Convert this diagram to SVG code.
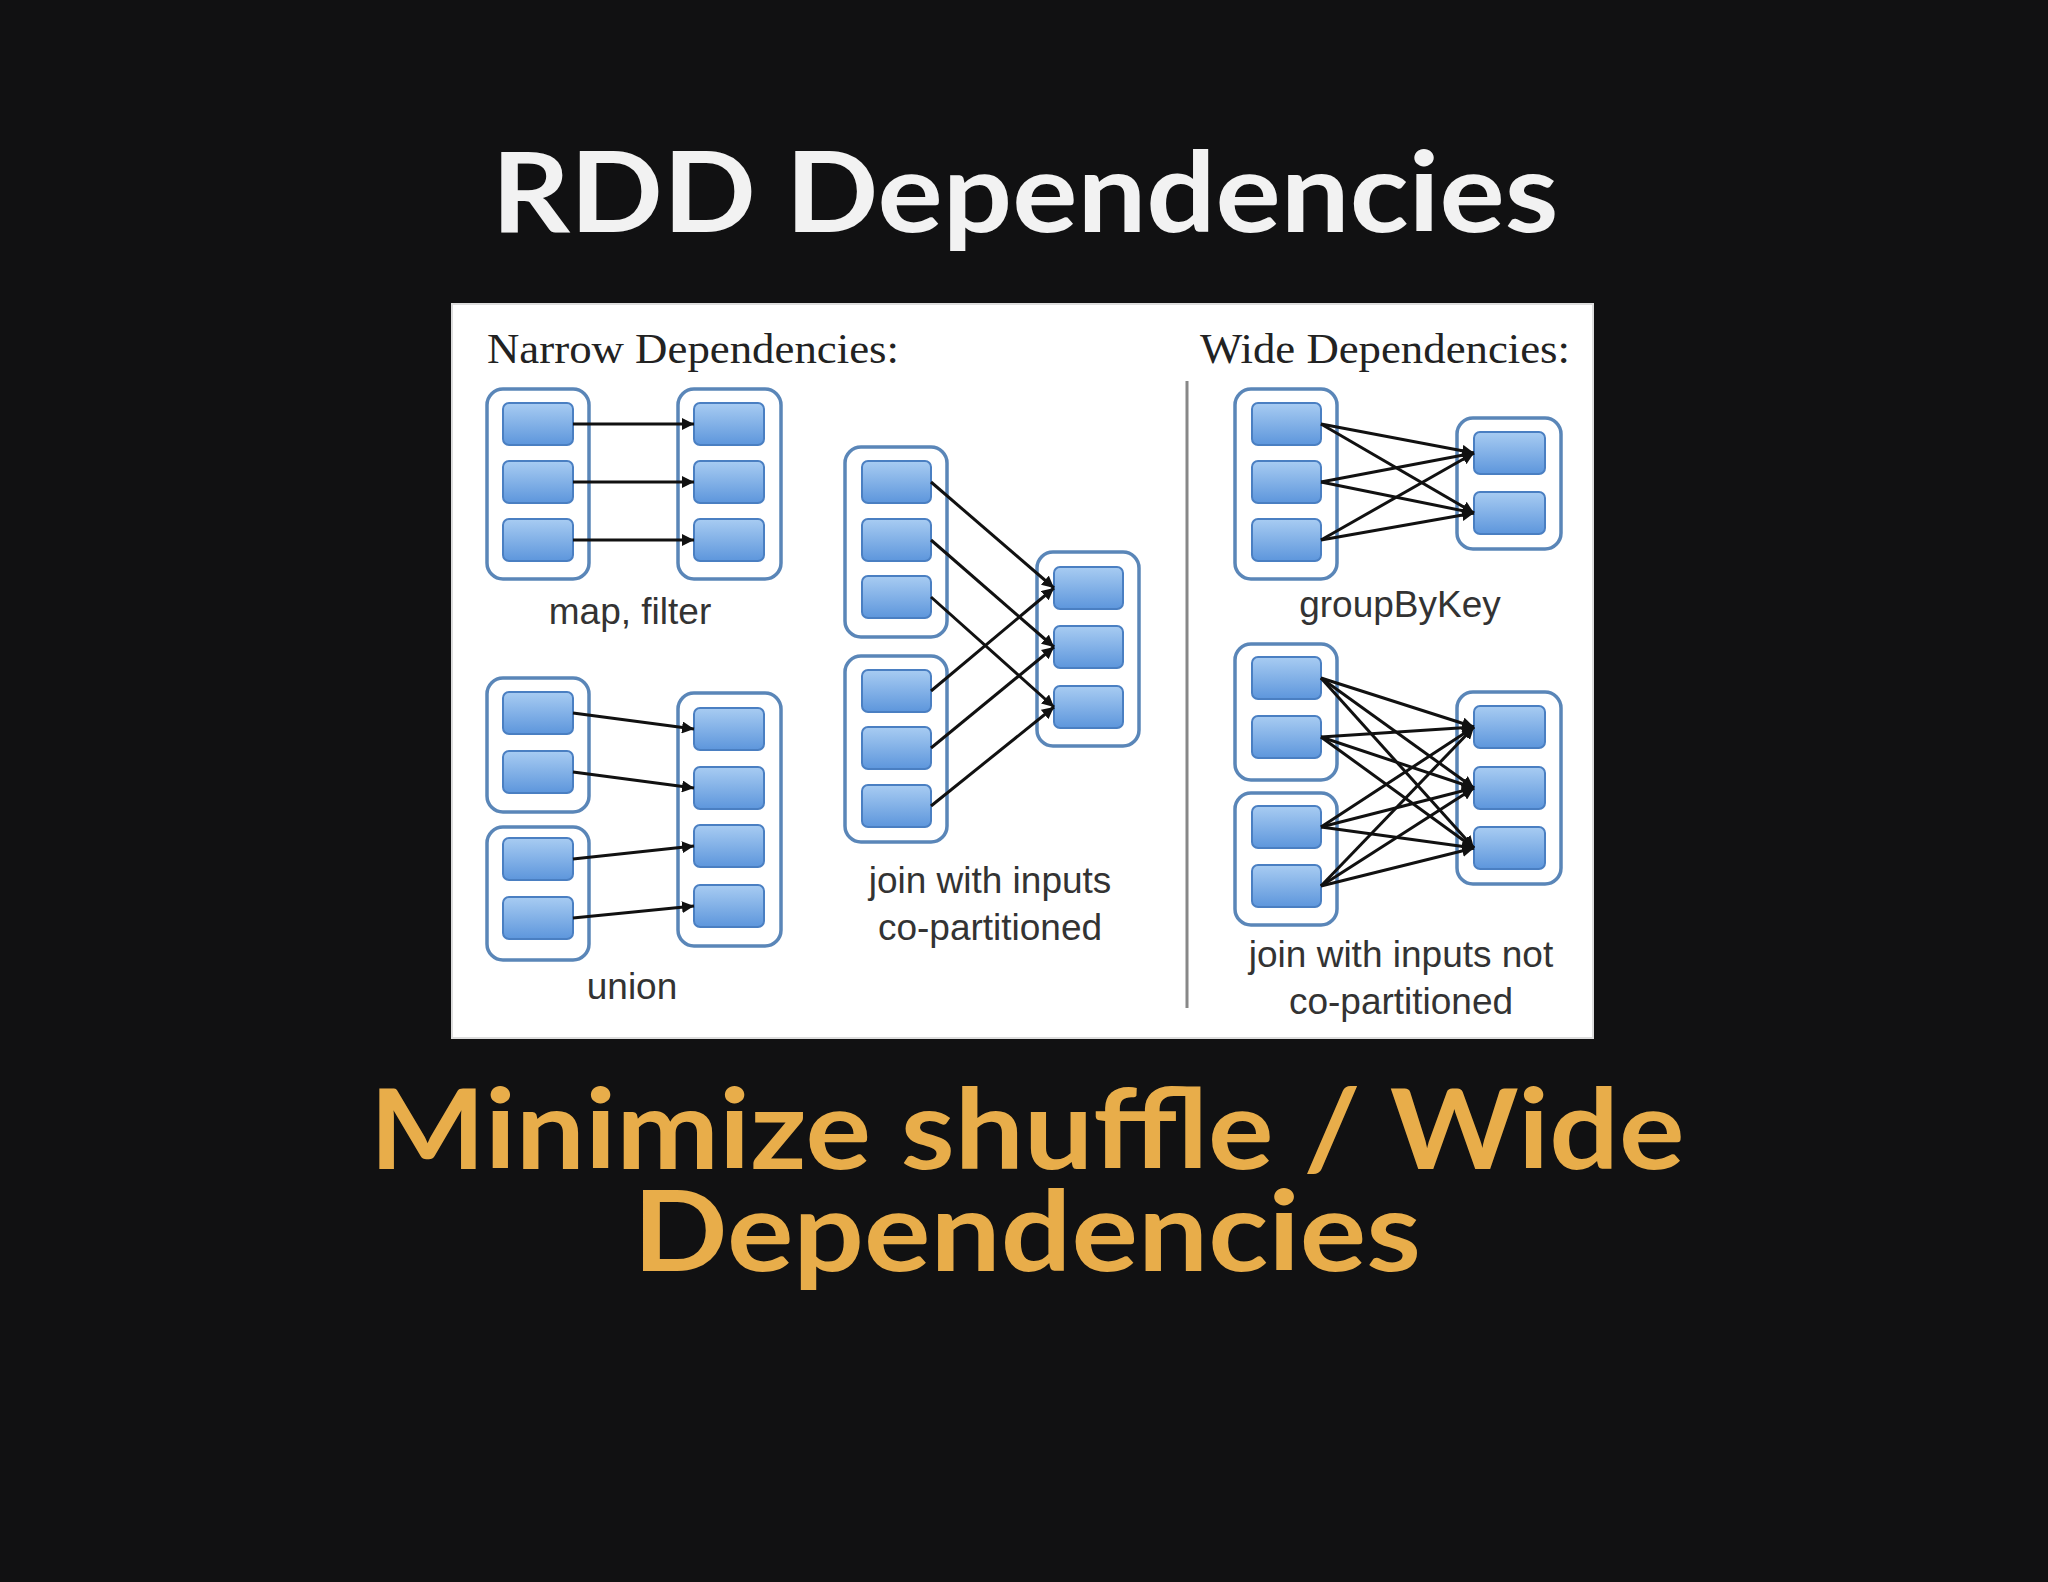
<svg xmlns="http://www.w3.org/2000/svg" width="2048" height="1582" viewBox="0 0 2048 1582">
<style>
.ct{fill:#fff;stroke:#5a86b8;stroke-width:3.5}
.c{fill:url(#g);stroke:#4a7fc2;stroke-width:2}
.l{font-family:"Liberation Sans",Arial,sans-serif;font-size:37px;fill:#333;text-anchor:middle}
.h{font-family:"Liberation Serif","Times New Roman",serif;font-size:42px;fill:#222}
#cn line{stroke:#111;stroke-width:3;marker-end:url(#a)}
</style>
<defs>
<linearGradient id="g" x1="0" y1="0" x2="0" y2="1"><stop offset="0" stop-color="#a8ccf2"/><stop offset="1" stop-color="#5d96dc"/></linearGradient>
<marker id="a" viewBox="0 0 10 10" refX="10" refY="5" markerWidth="4" markerHeight="4" orient="auto"><path d="M0,0L10,5L0,10z" fill="#111"/></marker>
</defs>
<rect width="2048" height="1582" fill="#111112"/>
<text x="1025" y="232" font-family="Lato,'Open Sans',sans-serif" font-weight="bold" font-size="112" fill="#f2f2f2" text-anchor="middle" textLength="1067" lengthAdjust="spacingAndGlyphs">RDD Dependencies</text>
<rect x="452" y="304" width="1141" height="734" fill="#fff" stroke="#ddd" stroke-width="2"/>
<text class="h" x="487" y="363" textLength="412" lengthAdjust="spacingAndGlyphs">Narrow Dependencies:</text>
<text class="h" x="1200" y="363" textLength="370" lengthAdjust="spacingAndGlyphs">Wide Dependencies:</text>
<line x1="1187" y1="381" x2="1187" y2="1008" stroke="#888" stroke-width="3"/>
<g id="mapfilter">
<rect class="ct" x="487" y="389" width="102" height="190" rx="16"/>
<rect class="c" x="503" y="403" width="70" height="42" rx="6"/><rect class="c" x="503" y="461" width="70" height="42" rx="6"/><rect class="c" x="503" y="519" width="70" height="42" rx="6"/>
<rect class="ct" x="678" y="389" width="103" height="190" rx="16"/>
<rect class="c" x="694" y="403" width="70" height="42" rx="6"/><rect class="c" x="694" y="461" width="70" height="42" rx="6"/><rect class="c" x="694" y="519" width="70" height="42" rx="6"/>
<text class="l" x="630" y="624">map, filter</text>
</g>
<g id="union">
<rect class="ct" x="487" y="678" width="102" height="134" rx="16"/>
<rect class="c" x="503" y="692" width="70" height="42" rx="6"/><rect class="c" x="503" y="751" width="70" height="42" rx="6"/>
<rect class="ct" x="487" y="827" width="102" height="133" rx="16"/>
<rect class="c" x="503" y="838" width="70" height="42" rx="6"/><rect class="c" x="503" y="897" width="70" height="42" rx="6"/>
<rect class="ct" x="678" y="693" width="103" height="253" rx="16"/>
<rect class="c" x="694" y="708" width="70" height="42" rx="6"/><rect class="c" x="694" y="767" width="70" height="42" rx="6"/><rect class="c" x="694" y="825" width="70" height="42" rx="6"/><rect class="c" x="694" y="885" width="70" height="42" rx="6"/>
<text class="l" x="632" y="999">union</text>
</g>
<g id="joinco">
<rect class="ct" x="845" y="447" width="102" height="190" rx="16"/>
<rect class="c" x="862" y="461" width="69" height="42" rx="6"/><rect class="c" x="862" y="519" width="69" height="42" rx="6"/><rect class="c" x="862" y="576" width="69" height="42" rx="6"/>
<rect class="ct" x="845" y="656" width="102" height="186" rx="16"/>
<rect class="c" x="862" y="670" width="69" height="42" rx="6"/><rect class="c" x="862" y="727" width="69" height="42" rx="6"/><rect class="c" x="862" y="785" width="69" height="42" rx="6"/>
<rect class="ct" x="1037" y="552" width="102" height="194" rx="16"/>
<rect class="c" x="1054" y="567" width="69" height="42" rx="6"/><rect class="c" x="1054" y="626" width="69" height="42" rx="6"/><rect class="c" x="1054" y="686" width="69" height="42" rx="6"/>
<text class="l" x="990" y="893">join with inputs</text><text class="l" x="990" y="940">co-partitioned</text>
</g>
<g id="groupbykey">
<rect class="ct" x="1235" y="389" width="102" height="190" rx="16"/>
<rect class="c" x="1252" y="403" width="69" height="42" rx="6"/><rect class="c" x="1252" y="461" width="69" height="42" rx="6"/><rect class="c" x="1252" y="519" width="69" height="42" rx="6"/>
<rect class="ct" x="1457" y="418" width="104" height="131" rx="16"/>
<rect class="c" x="1474" y="432" width="71" height="42" rx="6"/><rect class="c" x="1474" y="492" width="71" height="42" rx="6"/>
<text class="l" x="1400" y="617">groupByKey</text>
</g>
<g id="joinnotco">
<rect class="ct" x="1235" y="644" width="102" height="136" rx="16"/>
<rect class="c" x="1252" y="657" width="69" height="42" rx="6"/><rect class="c" x="1252" y="716" width="69" height="42" rx="6"/>
<rect class="ct" x="1235" y="793" width="102" height="132" rx="16"/>
<rect class="c" x="1252" y="806" width="69" height="42" rx="6"/><rect class="c" x="1252" y="865" width="69" height="42" rx="6"/>
<rect class="ct" x="1457" y="692" width="104" height="192" rx="16"/>
<rect class="c" x="1474" y="706" width="71" height="42" rx="6"/><rect class="c" x="1474" y="767" width="71" height="42" rx="6"/><rect class="c" x="1474" y="827" width="71" height="42" rx="6"/>
<text class="l" x="1401" y="967">join with inputs not</text><text class="l" x="1401" y="1014">co-partitioned</text>
</g>
<g id="cn">
<line x1="573" y1="424" x2="694" y2="424"/><line x1="573" y1="482" x2="694" y2="482"/><line x1="573" y1="540" x2="694" y2="540"/>
<line x1="573" y1="713" x2="694" y2="729"/><line x1="573" y1="772" x2="694" y2="788"/><line x1="573" y1="859" x2="694" y2="846"/><line x1="573" y1="918" x2="694" y2="906"/>
<line x1="931" y1="482" x2="1054" y2="588"/><line x1="931" y1="540" x2="1054" y2="647"/><line x1="931" y1="597" x2="1054" y2="707"/>
<line x1="931" y1="691" x2="1054" y2="588"/><line x1="931" y1="748" x2="1054" y2="647"/><line x1="931" y1="806" x2="1054" y2="707"/>
<line x1="1321" y1="424" x2="1474" y2="453"/><line x1="1321" y1="424" x2="1474" y2="513"/>
<line x1="1321" y1="482" x2="1474" y2="453"/><line x1="1321" y1="482" x2="1474" y2="513"/>
<line x1="1321" y1="540" x2="1474" y2="453"/><line x1="1321" y1="540" x2="1474" y2="513"/>
<line x1="1321" y1="678" x2="1474" y2="727"/><line x1="1321" y1="678" x2="1474" y2="788"/><line x1="1321" y1="678" x2="1474" y2="848"/>
<line x1="1321" y1="737" x2="1474" y2="727"/><line x1="1321" y1="737" x2="1474" y2="788"/><line x1="1321" y1="737" x2="1474" y2="848"/>
<line x1="1321" y1="827" x2="1474" y2="727"/><line x1="1321" y1="827" x2="1474" y2="788"/><line x1="1321" y1="827" x2="1474" y2="848"/>
<line x1="1321" y1="886" x2="1474" y2="727"/><line x1="1321" y1="886" x2="1474" y2="788"/><line x1="1321" y1="886" x2="1474" y2="848"/>
</g>
<g font-family="Lato,'Open Sans',sans-serif" font-weight="bold" font-size="112" fill="#e8ad4a" text-anchor="middle">
<text x="1027" y="1169" textLength="1315" lengthAdjust="spacingAndGlyphs">Minimize shuffle / Wide</text>
<text x="1027" y="1271" textLength="788" lengthAdjust="spacingAndGlyphs">Dependencies</text>
</g>
</svg>
